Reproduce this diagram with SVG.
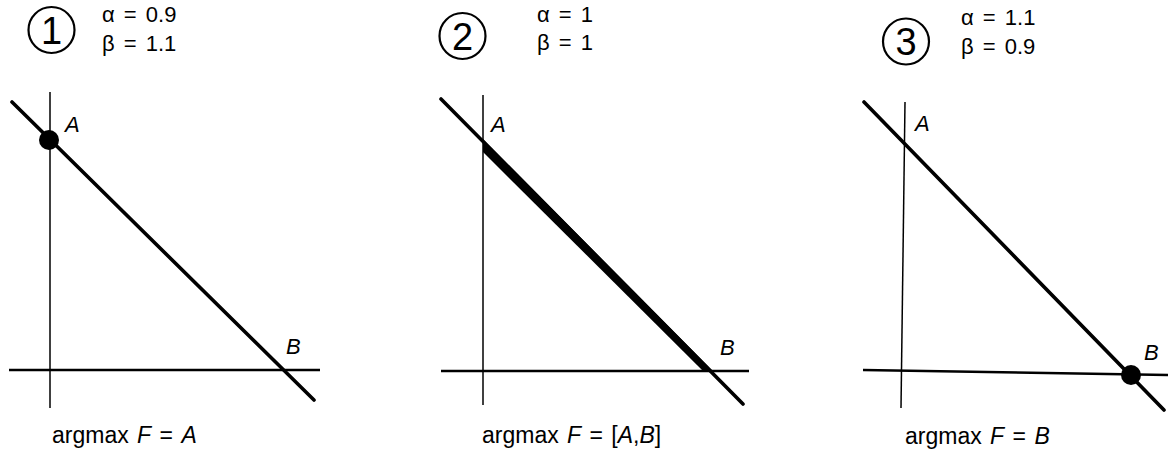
<svg xmlns="http://www.w3.org/2000/svg" width="1168" height="454" viewBox="0 0 1168 454">
<style>
text{font-family:"Liberation Sans",Arial,sans-serif;fill:#000}
.num{font-size:38px;text-anchor:middle}
.par{font-size:22px;word-spacing:3px}
.lab{font-size:22px;font-style:italic}
.cap{font-size:23px;word-spacing:2px}
.it{font-style:italic}
.ring{fill:none;stroke:#000;stroke-width:2.2}
.vax{stroke:#000;stroke-width:1.5;fill:none}
.hax{stroke:#000;stroke-width:2.4;fill:none}
.dia{stroke:#000;stroke-width:3.6;fill:none;stroke-linecap:round}
.dot{fill:#000}
</style>
<g id="panel1">
<circle class="ring" cx="51.5" cy="30" r="23"/>
<text class="num" x="51.5" y="43.5">1</text>
<text class="par" x="102" y="22">α = 0.9</text>
<text class="par" x="102" y="51">β = 1.1</text>
<text class="cap" x="52" y="443">argmax <tspan class="it">F</tspan> = <tspan class="it">A</tspan></text>
</g>
<g id="panel2">
<circle class="ring" cx="462.5" cy="36" r="23"/>
<text class="num" x="462.5" y="49.5">2</text>
<text class="par" x="537" y="22">α = 1</text>
<text class="par" x="537" y="50">β = 1</text>
<text class="cap" x="482" y="443">argmax <tspan class="it">F</tspan> = [<tspan class="it">A</tspan>,<tspan class="it">B</tspan>]</text>
</g>
<g id="panel3">
<circle class="ring" cx="906" cy="41.5" r="23"/>
<text class="num" x="906" y="55">3</text>
<text class="par" x="961" y="25">α = 1.1</text>
<text class="par" x="961" y="54">β = 0.9</text>
<text class="cap" x="905" y="444">argmax <tspan class="it">F</tspan> = <tspan class="it">B</tspan></text>
</g>
<g id="connectors">
<line class="vax" x1="50" y1="92" x2="50" y2="408"/>
<line class="hax" x1="9" y1="370" x2="320" y2="370"/>
<line class="dia" x1="12" y1="102" x2="314" y2="400"/>
<line class="vax" x1="483" y1="95" x2="483" y2="405"/>
<line class="hax" x1="441" y1="371" x2="749" y2="371"/>
<line class="dia" x1="441" y1="99" x2="743" y2="404"/>
<polygon class="dot" points="483,139 713,371 703,371 483,152"/>
<line class="vax" x1="905" y1="102" x2="901" y2="408"/>
<line class="hax" x1="863" y1="370" x2="1168" y2="375"/>
<line class="dia" x1="864" y1="102" x2="1164" y2="410"/>
</g>
<g id="pointA1"><circle class="dot" cx="49" cy="140" r="10"/><text class="lab" x="65" y="132">A</text></g>
<g id="pointB1"><text class="lab" x="286" y="354">B</text></g>
<g id="pointA2"><text class="lab" x="491" y="132">A</text></g>
<g id="pointB2"><text class="lab" x="720" y="355">B</text></g>
<g id="pointA3"><text class="lab" x="915" y="131">A</text></g>
<g id="pointB3"><circle class="dot" cx="1131" cy="375" r="10"/><text class="lab" x="1144" y="360">B</text></g>
</svg>
